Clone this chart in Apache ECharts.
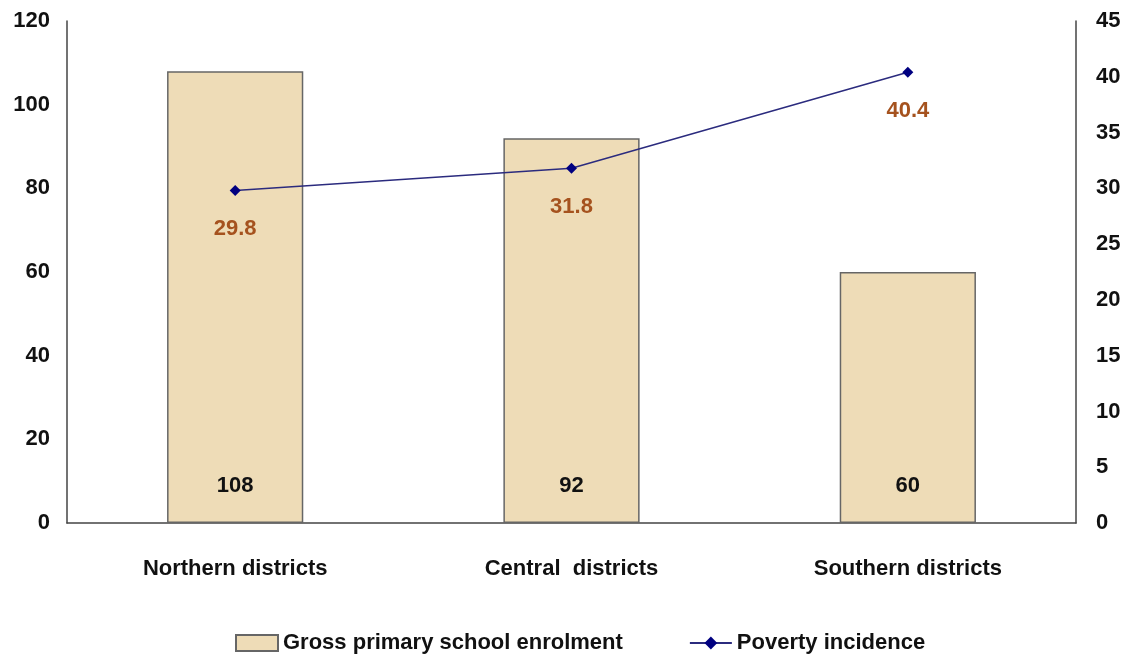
<!DOCTYPE html>
<html>
<head>
<meta charset="utf-8">
<script src="https://cdn.jsdelivr.net/npm/echarts@6/dist/echarts.min.js"></script>
<style>html,body{margin:0;padding:0;background:#fff}#c{width:1130px;height:666px}</style>
</head>
<body>
<div id="c"></div>
<script>
var categories = ['Northern districts', 'Central  districts', 'Southern districts'];
var enrolment = [108, 92, 60];
var poverty = [29.8, 31.8, 40.4];
var leftTicks = [0, 20, 40, 60, 80, 100, 120];
var rightTicks = [0, 5, 10, 15, 20, 25, 30, 35, 40, 45];

var FONT = '"Liberation Sans", Arial, sans-serif';
var chart = echarts.init(document.getElementById('c'), null, {renderer: 'canvas'});
chart.setOption({
  animation: false,
  backgroundColor: '#fff',
  grid: {left: 67, right: 54, top: 21, bottom: 143, containLabel: false},
  legend: {
    bottom: 7,
    left: 230,
    itemGap: 66,
    itemWidth: 42,
    itemHeight: 16,
    textStyle: {fontFamily: FONT, fontWeight: 'bold', fontSize: 22, color: '#111'},
    data: [
      {name: 'Gross primary school enrolment', icon: 'rect'},
      {name: 'Poverty incidence'}
    ]
  },
  xAxis: {
    type: 'category',
    data: categories,
    axisLine: {lineStyle: {color: '#444', width: 1.5}},
    axisTick: {show: false},
    axisLabel: {fontFamily: FONT, fontWeight: 'bold', fontSize: 22, color: '#111', margin: 35}
  },
  yAxis: [
    {
      type: 'value', min: leftTicks[0], max: leftTicks[leftTicks.length - 1], interval: 20,
      axisLine: {show: true, lineStyle: {color: '#444', width: 1.5}},
      axisTick: {show: false},
      splitLine: {show: false},
      axisLabel: {fontFamily: FONT, fontWeight: 'bold', fontSize: 22, color: '#111', margin: 17}
    },
    {
      type: 'value', min: rightTicks[0], max: rightTicks[rightTicks.length - 1], interval: 5,
      position: 'right',
      axisLine: {show: true, lineStyle: {color: '#444', width: 1.5}},
      axisTick: {show: false},
      splitLine: {show: false},
      axisLabel: {fontFamily: FONT, fontWeight: 'bold', fontSize: 22, color: '#111', margin: 20}
    }
  ],
  series: [
    {
      name: 'Gross primary school enrolment',
      type: 'bar',
      data: enrolment,
      barWidth: '40.5%',
      itemStyle: {color: '#EEDCB7', borderColor: '#666', borderWidth: 1.5},
      label: {
        show: true, position: 'insideBottom', distance: 26,
        fontFamily: FONT, fontWeight: 'bold', fontSize: 22, color: '#111'
      }
    },
    {
      name: 'Poverty incidence',
      type: 'line',
      yAxisIndex: 1,
      data: poverty,
      symbol: 'diamond',
      symbolSize: 11,
      lineStyle: {color: '#2B2B7E', width: 1.5},
      itemStyle: {color: '#000080'},
      label: {
        show: true, position: 'bottom', distance: 22,
        fontFamily: FONT, fontWeight: 'bold', fontSize: 22, color: '#A5521E'
      }
    }
  ]
});
</script>
</body>
</html>
